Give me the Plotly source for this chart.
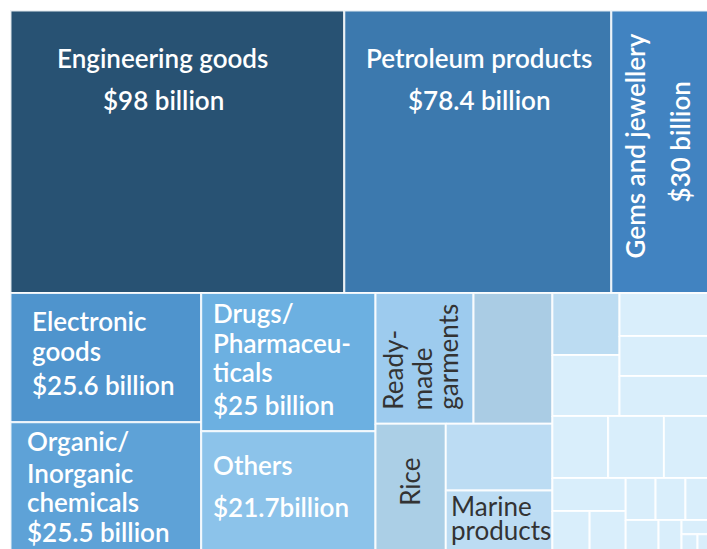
import plotly.graph_objects as go

# ---------------- data (India's merchandise exports, US$ billion) ----------------
categories = [
    "Engineering goods", "Petroleum products", "Gems and jewellery",
    "Electronic goods", "Organic/Inorganic chemicals", "Drugs/Pharmaceuticals", "Others",
    "Ready-made garments", "Item A", "Rice", "Item B", "Marine products",
    "Item C", "Item D", "Item E", "Item F", "Item G", "Item H", "Item I", "Item J",
    "Item K", "Item L", "Item M", "Item N", "Item O", "Item P", "Item Q", "Item R",
    "Item S", "Item T", "Item U",
]
values_bn = [
    98, 78.4, 30,
    25.6, 25.5, 25, 21.7,
    13.3, 10.7, 9.3, 7.4, 6.7,
    4.32, 4.25, 4.2, 3.9, 3.9, 3.6, 3.6, 3.2,
    2.5, 1.55, 1.5, 1.3, 1.3, 1.22, 1.06, 0.74,
    0.47, 0.28, 0.28,
]
value_labels = ["$98 billion", "$78.4 billion", "$30 billion", "$25.6 billion",
                "$25.5 billion", "$25 billion", "$21.7billion"]

# ---------------- layout tree (split directions only) ----------------
TREE = ('v', [
    ('h', [0, 1, 2]),
    ('h', [
        ('v', [3, 4]),
        ('v', [5, 6]),
        ('v', [('h', [7, 8]), ('h', [9, ('v', [10, 11])])]),
        ('v', [
            ('h', [('v', [12, 13]), ('v', [14, 15, 16])]),
            ('h', [17, 18, 19]),
            ('h', [('v', [20, ('h', [21, 22])]),
                   ('v', [('h', [23, 24, 25]),
                          ('h', [26, 27, ('v', [28, ('h', [29, 30])])])])]),
        ]),
    ]),
])

ROOT = (10.5, 10.5, 713.5, 551.0)   # x0, y0, x1, y1 in pixel-like axis units


def node_value(n):
    if isinstance(n, int):
        return values_bn[n]
    return sum(node_value(c) for c in n[1])


rects = {}


def layout(n, x0, y0, x1, y1):
    if isinstance(n, int):
        rects[n] = (x0, y0, x1, y1)
        return
    d, kids = n
    tot = node_value(n)
    pos = x0 if d == 'h' else y0
    for k in kids:
        frac = node_value(k) / tot
        if d == 'h':
            w = (x1 - x0) * frac
            layout(k, pos, y0, pos + w, y1)
            pos += w
        else:
            h = (y1 - y0) * frac
            layout(k, x0, pos, x1, pos + h)
            pos += h


layout(TREE, *ROOT)

# ---------------- styles ----------------
LIGHT = "#d9eefb"
colors = ["#285273", "#3c79ae", "#4183c1", "#4f94cd", "#5ea2d7", "#6cb0e1", "#8cc3ea",
          "#9dcbee", "#aacce4", "#abcfe6", "#bcdcf3", "#bcdcf3", "#bcdcf2"] + [LIGHT] * 18

FONT = "Lato"
W, DK = "white", "#333333"
FS = 26

# label lines: (cell, text, dx, dy, xanchor, yanchor, angle, color, weight)
label_specs = [
    (0, categories[0], 151.5, 47.4, "center", "middle", 0, W, 600),
    (0, value_labels[0], 152.5, 89.4, "center", "middle", 0, W, 600),
    (1, categories[1], 135.2, 47.4, "center", "middle", 0, W, 600),
    (1, value_labels[1], 135.2, 89.4, "center", "middle", 0, W, 600),
    (2, categories[2], 24.1, 135.5, "center", "middle", -90, W, 600),
    (2, value_labels[2], 69.1, 131.5, "center", "middle", -90, W, 600),
    (3, "Electronic", 21.5, 27.9, "left", "middle", 0, W, 600),
    (3, "goods", 21.5, 57.9, "left", "middle", 0, W, 600),
    (3, value_labels[3], 21.5, 91.9, "left", "middle", 0, W, 600),
    (4, "Organic/", 16, 18.7, "left", "middle", 0, W, 600),
    (4, "Inorganic", 16, 50.4, "left", "middle", 0, W, 600),
    (4, "chemicals", 16, 79.4, "left", "middle", 0, W, 600),
    (4, value_labels[4], 16, 109.4, "left", "middle", 0, W, 600),
    (5, "Drugs/", 11.6, 20.2, "left", "middle", 0, W, 600),
    (5, "Pharmaceu-", 11.6, 49.6, "left", "middle", 0, W, 600),
    (5, "ticals", 11.6, 78.6, "left", "middle", 0, W, 600),
    (5, value_labels[5], 11.6, 111.9, "left", "middle", 0, W, 600),
    (6, "Others", 11.6, 33.8, "left", "middle", 0, W, 600),
    (6, value_labels[6], 11.6, 75.5, "left", "middle", 0, W, 600),
    (7, "Ready-", 17.1, 117, "center", "bottom", -90, DK, 400),
    (7, "made", 46.1, 117, "center", "bottom", -90, DK, 400),
    (7, "garments", 72.1, 117, "center", "bottom", -90, DK, 400),
    (9, "Rice", 34.2, 58.5, "center", "middle", -90, DK, 400),
    (11, "Marine", 5.3, 15.9, "left", "middle", 0, DK, 400),
    (11, "products", 5.3, 39.9, "left", "middle", 0, DK, 400),
]

fig = go.Figure()
for i, name in enumerate(categories):
    x0, y0, x1, y1 = rects[i]
    fig.add_trace(go.Scatter(
        x=[x0, x1, x1, x0, x0], y=[y0, y0, y1, y1, y0],
        mode="lines", fill="toself", fillcolor=colors[i],
        line=dict(color="rgba(255,255,255,0.85)", width=2),
        hoveron="fills", hoverinfo="text",
        text=f"{name}: ${values_bn[i]} billion",
        showlegend=False,
    ))

annotations = []
for cell, txt, dx, dy, xa, ya, ang, col, wt in label_specs:
    x0, y0, _, _ = rects[cell]
    annotations.append(dict(
        x=x0 + dx, y=y0 + dy, xref="x", yref="y", text=txt, showarrow=False,
        xanchor=xa, yanchor=ya, textangle=ang, borderpad=0, borderwidth=0,
        font=dict(family=FONT, size=FS, color=col, weight=wt),
    ))

fig.update_layout(
    width=707, height=549,
    margin=dict(l=0, r=0, t=0, b=0),
    paper_bgcolor="white", plot_bgcolor="white",
    xaxis=dict(range=[0, 707], visible=False, fixedrange=True),
    yaxis=dict(range=[549, 0], visible=False, fixedrange=True),
    annotations=annotations,
    showlegend=False,
)

fig.write_html(
    "out.html",
    config={"displayModeBar": False},
    post_script="document.documentElement.style.margin='0';document.body.style.margin='0';"
                "document.body.style.overflow='hidden';",
)
